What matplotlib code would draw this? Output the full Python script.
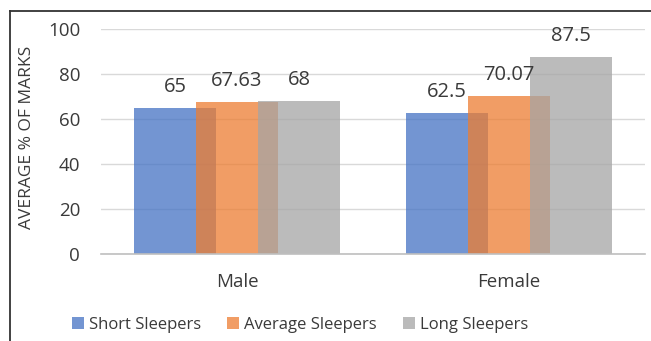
import matplotlib
matplotlib.use("Agg")
import matplotlib.pyplot as plt
from matplotlib.lines import Line2D
import numpy as np

plt.rcParams['font.family'] = ['Open Sans', 'DejaVu Sans']

categories = ["Male", "Female"]
series_names = ["Short Sleepers", "Average Sleepers", "Long Sleepers"]
short_sleepers = [65, 62.5]
average_sleepers = [67.63, 70.07]
long_sleepers = [68, 87.5]
value_labels = [["65", "62.5"], ["67.63", "70.07"], ["68", "87.5"]]
y_ticks = [0, 20, 40, 60, 80, 100]

colors = ["#4472C4", "#ED7D31", "#A5A5A5"]
series = [short_sleepers, average_sleepers, long_sleepers]
text_col = "#3A3A3A"

W, H = 651, 341
fig = plt.figure(figsize=(W / 100, H / 100), dpi=100)
ax = fig.add_axes([101 / W, (H - 254) / H, (645 - 101) / W, (254 - 29) / H])

x = np.arange(len(categories))
bar_w = 0.30
step = 0.228
for i, (vals, col, labels) in enumerate(zip(series, colors, value_labels)):
    pos = x + (i - 1) * step
    ax.bar(pos, vals, width=bar_w, color=col, alpha=0.75, linewidth=0,
           zorder=3 + i, label=series_names[i])
    for px, v, t in zip(pos, vals, labels):
        ax.annotate(t, (px, v), xytext=(0, 11.5), textcoords="offset points",
                    ha="center", va="baseline", fontsize=14.5, color=text_col,
                    zorder=10)

ax.set_xlim(-0.5, 1.5)
ax.set_ylim(0, 100)
ax.set_yticks(y_ticks)
ax.set_xticks(x)
ax.set_xticklabels(categories)
ax.tick_params(axis="both", length=0, labelsize=13.5, labelcolor=text_col)
ax.tick_params(axis="y", pad=15)
ax.tick_params(axis="x", pad=14)
ax.grid(axis="y", color="#D9D9D9", linewidth=1, zorder=0)
for s in ["left", "right", "top"]:
    ax.spines[s].set_visible(False)
ax.spines["bottom"].set_color("#BFBFBF")
ax.spines["bottom"].set_linewidth(1.2)
ax.spines["bottom"].set_zorder(8)

fig.text(27 / W, 1 - 137 / H, "AVERAGE % OF MARKS", rotation=90,
         ha="center", va="center", fontsize=12.5, color=text_col)

leg = fig.legend(loc="center", bbox_to_anchor=(300 / W, 1 - 325 / H), ncol=3,
                 frameon=False, fontsize=12, handlelength=0.7, handleheight=0.7,
                 handletextpad=0.3, columnspacing=1.6, labelcolor=text_col)

# frame around the chart
fig.add_artist(Line2D([10 / W, 10 / W], [0, 1 - 11 / H], color="#333333",
                      linewidth=1.3, transform=fig.transFigure))
fig.add_artist(Line2D([10 / W, 1], [1 - 11 / H, 1 - 11 / H], color="#333333",
                      linewidth=1.3, transform=fig.transFigure))

fig.savefig("out.png", dpi=100)
